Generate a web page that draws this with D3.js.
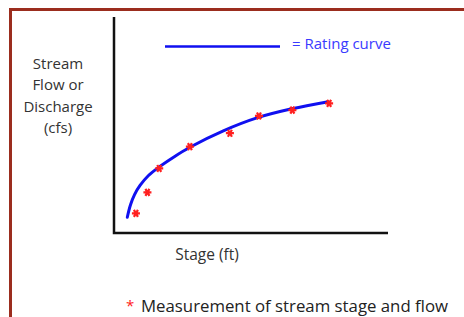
<!DOCTYPE html>
<html>
<head>
<meta charset="utf-8">
<script src="https://cdn.jsdelivr.net/npm/d3@7"></script>
<style>
  body { margin:0; background:#fff; }
  svg text { font-family: "Open Sans", "Noto Sans", sans-serif; }
</style>
</head>
<body>
<svg id="chart" width="464" height="317"></svg>
<script>
// rating curve (stage in ft, flow in arbitrary units)
const curveStage = [0.485, 0.60, 0.75, 0.95, 1.25, 1.65, 2.16, 2.77, 3.99, 5.27, 6.49, 7.82];
const curveFlow  = [7.3, 13.0, 17.8, 22.0, 26.5, 30.6, 35.0, 39.7, 47.3, 53.5, 57.5, 60.8];

// measurements (red stars)
const measStage = [0.80, 1.22, 1.65, 2.77, 4.23, 5.29, 6.51, 7.85];
const measFlow  = [9.1, 18.8, 29.9, 40.0, 46.2, 54.2, 56.9, 60.0];

const yLabelLines = ['Stream', 'Flow or', 'Discharge', '(cfs)'];

const svg = d3.select('#chart');
const plot = { left:114, right:388, top:17, bottom:233 };

const x = d3.scaleLinear().domain([0,10]).range([plot.left, plot.right]);
const y = d3.scaleLinear().domain([0,100]).range([plot.bottom, plot.top]);

// frame
svg.append('rect')
    .attr('x',10.5).attr('y',9.5).attr('width',470).attr('height',330)
    .attr('fill','none').attr('stroke','#9b2d1e').attr('stroke-width',3);

// axes (plain lines, no ticks)
svg.append('path')
    .attr('d',`M${plot.left},${plot.top}V${plot.bottom}H${plot.right}`)
    .attr('fill','none').attr('stroke','#111').attr('stroke-width',2.5);

// rating curve
const line = d3.line().x(d=>x(d[0])).y(d=>y(d[1])).curve(d3.curveCatmullRom.alpha(0.5));
svg.append('path')
    .datum(curveStage.map((s,i)=>[s,curveFlow[i]]))
    .attr('d',line)
    .attr('fill','none').attr('stroke','#1010f0').attr('stroke-width',3)
    .attr('stroke-linecap','round');

// measurement stars
const star = d3.symbol().type(d3.symbolAsterisk).size(45);
svg.selectAll('path.meas')
    .data(measStage.map((s,i)=>[s,measFlow[i]]))
    .join('path').attr('class','meas')
    .attr('d',star)
    .attr('transform',d=>`translate(${x(d[0])},${y(d[1])}) rotate(90)`)
    .attr('fill','none').attr('stroke','#ff2020').attr('stroke-width',2.2);

// legend
svg.append('line')
    .attr('x1',165).attr('x2',280).attr('y1',46.5).attr('y2',46.5)
    .attr('stroke','#1010f0').attr('stroke-width',2.5);
svg.append('text')
    .attr('x',292).attr('y',49)
    .attr('fill','#3a3aff').style('font-size','15px')
    .text('= Rating curve');

// y label
svg.append('text')
    .attr('text-anchor','middle').attr('fill','#333').style('font-size','15px')
    .selectAll('tspan').data(yLabelLines).join('tspan')
    .attr('x',58).attr('y',(d,i)=>68.5+i*21.5)
    .text(d=>d);

// x label
svg.append('text')
    .attr('x',207).attr('y',260).attr('text-anchor','middle')
    .attr('fill','#333').style('font-size','15.5px')
    .text('Stage (ft)');

// footnote
svg.append('text')
    .attr('x',126).attr('y',311)
    .attr('fill','#ff2020').style('font-size','15px')
    .text('*');
svg.append('text')
    .attr('x',141).attr('y',312)
    .attr('fill','#222').style('font-size','16.8px')
    .text('Measurement of stream stage and flow');
</script>
</body>
</html>
